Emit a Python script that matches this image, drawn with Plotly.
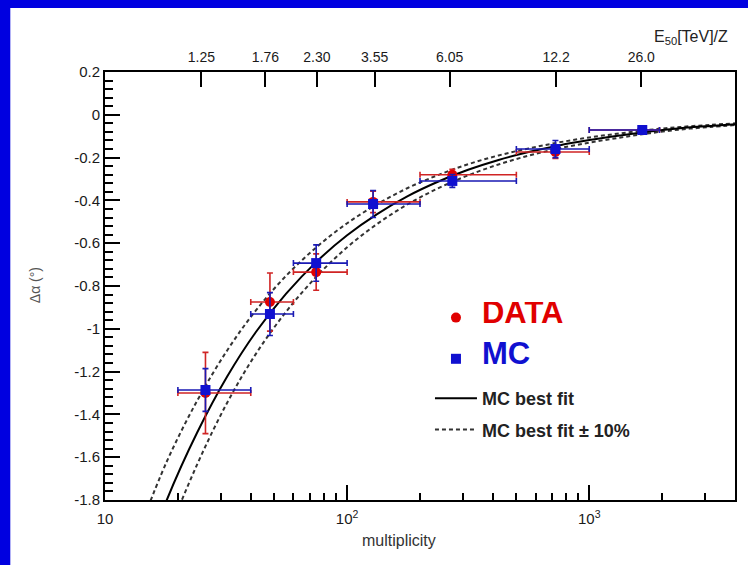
import plotly.graph_objects as go

# ---------------- data ----------------
mult = [26, 48, 74.5, 128, 272, 725, 1656]
mult_lo = [20, 40, 60, 100, 200, 500, 1000]
mult_hi = [40, 60, 100, 200, 500, 1000, 1950]

data_y = [-1.30, -0.875, -0.735, -0.407, -0.28, -0.174, -0.071]
data_err = [0.19, 0.136, 0.085, 0.05, 0.025, 0.03, 0.015]

mc_y = [-1.286, -0.931, -0.693, -0.417, -0.309, -0.160, -0.071]
mc_err = [0.10, 0.10, 0.085, 0.063, 0.03, 0.04, 0.015]

fit_m = [14, 18, 24, 32, 42, 56, 75, 100, 133, 178, 237, 316, 422, 562, 750,
         1000, 1334, 1778, 2371, 3162, 4000]
fit_y = [-2.14, -1.80, -1.486, -1.222, -1.015, -0.836, -0.685, -0.563, -0.464,
         -0.380, -0.313, -0.257, -0.211, -0.174, -0.143, -0.118, -0.097, -0.078,
         -0.063, -0.052, -0.044]
fit_minus10 = [-1.926, -1.62, -1.337, -1.10, -0.914, -0.752, -0.617, -0.507,
               -0.418, -0.342, -0.282, -0.231, -0.190, -0.157, -0.129, -0.106,
               -0.087, -0.070, -0.057, -0.047, -0.040]
fit_plus10 = [-2.354, -1.98, -1.635, -1.344, -1.117, -0.920, -0.754, -0.619,
              -0.510, -0.418, -0.344, -0.283, -0.232, -0.191, -0.157, -0.130,
              -0.107, -0.086, -0.069, -0.057, -0.048]

e50_mult = [25, 46, 75, 130, 265, 730, 1640]
e50_labels = ["1.25", "1.76", "2.30", "3.55", "6.05", "12.2", "26.0"]

y_ticks = [0.2, 0, -0.2, -0.4, -0.6, -0.8, -1, -1.2, -1.4, -1.6, -1.8]
y_ticklabels = ["0.2", "0", "-0.2", "-0.4", "-0.6", "-0.8", "-1", "-1.2", "-1.4", "-1.6", "-1.8"]
x_major = [10, 100, 1000]
x_major_labels = ["10", "10<sup>2</sup>", "10<sup>3</sup>"]
x_minor = [20, 30, 40, 50, 60, 70, 80, 90, 200, 300, 400, 500, 600, 700, 800, 900, 2000, 3000]

# ---------------- styling ----------------
FONT = "Liberation Sans, Arial, sans-serif"
RED = "#e00000"
BLUE = "#1010d0"
ERR_RED = "#d02424"
ERR_BLUE = "#1a1ab4"

W, H = 748, 565
L, R, T, B = 105, 11, 72, 65
PW, PH = W - L - R, H - T - B

def px(xp):
    return (xp - L) / PW

def py(yp):
    return (H - B - yp) / PH

xerr_plus = [h - m for h, m in zip(mult_hi, mult)]
xerr_minus = [m - l for m, l in zip(mult, mult_lo)]

fig = go.Figure()

fig.add_trace(go.Scatter(
    x=fit_m, y=fit_minus10, mode="lines",
    line=dict(color="#333333", width=2, dash="4px,3px", shape="spline", smoothing=1),
    name="<b>MC best fit \u00b1 10%</b>", legend="legend2", legendgroup="d", legendrank=2,
    hoverinfo="skip"))
fig.add_trace(go.Scatter(
    x=fit_m, y=fit_plus10, mode="lines",
    line=dict(color="#333333", width=2, dash="4px,3px", shape="spline", smoothing=1),
    showlegend=False, legendgroup="d", hoverinfo="skip"))
fig.add_trace(go.Scatter(
    x=fit_m, y=fit_y, mode="lines",
    line=dict(color="black", width=2, shape="spline", smoothing=1),
    name="<b>MC best fit</b>", legend="legend2", legendgroup="s", legendrank=1,
    hoverinfo="skip"))

fig.add_trace(go.Scatter(
    x=mult, y=data_y, mode="markers",
    marker=dict(symbol="circle", size=10, color=RED),
    error_x=dict(type="data", symmetric=False, array=xerr_plus, arrayminus=xerr_minus,
                 color=ERR_RED, thickness=1.6, width=3),
    error_y=dict(type="data", array=data_err, color=ERR_RED, thickness=1.6, width=3),
    name='<span style="font-size:31px;color:#e00000"><b>DATA</b></span>',
    legend="legend", legendgroup="a", legendrank=1))
fig.add_trace(go.Scatter(
    x=mult, y=mc_y, mode="markers",
    marker=dict(symbol="square", size=10, color=BLUE),
    error_x=dict(type="data", symmetric=False, array=xerr_plus, arrayminus=xerr_minus,
                 color=ERR_BLUE, thickness=1.6, width=3),
    error_y=dict(type="data", array=mc_err, color=ERR_BLUE, thickness=1.6, width=3),
    name='<span style="font-size:31px;color:#1010d0"><b>MC</b></span>',
    legend="legend", legendgroup="b", legendrank=2))

# top axis carrier (invisible trace)
fig.add_trace(go.Scatter(x=e50_mult, y=[None] * len(e50_mult), xaxis="x2", yaxis="y",
                         mode="markers", showlegend=False, hoverinfo="skip"))

xr = [1, 3.602]
fig.update_layout(
    width=W, height=H,
    margin=dict(l=L, r=R, t=T, b=B, pad=0),
    paper_bgcolor="#0000e0",
    plot_bgcolor="white",
    font=dict(family=FONT, color="#222222", size=15),
    xaxis=dict(type="log", range=xr, tickvals=x_major, ticktext=x_major_labels,
               ticks="inside", ticklen=15, tickwidth=1.5, tickcolor="black",
               showline=True, linecolor="black", linewidth=2, mirror=True,
               showgrid=False, zeroline=False, ticklabelstandoff=4,
               tickfont=dict(size=15, color="#1a1a1a"),
               minor=dict(tickvals=x_minor, ticks="inside", ticklen=7, tickwidth=1.5,
                          tickcolor="black", showgrid=False)),
    xaxis2=dict(type="log", range=xr, overlaying="x", side="top",
                tickvals=e50_mult, ticktext=e50_labels, ticks="inside", ticklen=15,
                tickwidth=1.5, tickcolor="black", showline=False, showgrid=False,
                zeroline=False, ticklabelstandoff=6,
                tickfont=dict(size=14, color="#1a1a1a")),
    yaxis=dict(range=[-1.8, 0.2], tickvals=y_ticks, ticktext=y_ticklabels,
               ticks="inside", ticklen=15, tickwidth=1.5, tickcolor="black",
               showline=True, linecolor="black", linewidth=2, mirror=True,
               showgrid=False, zeroline=False,
               tickfont=dict(size=15, color="#1a1a1a"),
               minor=dict(dtick=0.04, ticks="inside", ticklen=8, tickwidth=1.5,
                          tickcolor="black", showgrid=False)),
    legend=dict(x=px(431), y=py(302), xanchor="left", yanchor="top",
                bgcolor="rgba(0,0,0,0)", borderwidth=0, tracegroupgap=20,
                font=dict(family=FONT, size=14, color="#222222"),
                itemwidth=42, traceorder="grouped"),
    legend2=dict(x=px(431), y=py(380), xanchor="left", yanchor="top",
                 bgcolor="rgba(0,0,0,0)", borderwidth=0, tracegroupgap=5,
                 font=dict(family=FONT, size=18, color="#222222"),
                 itemwidth=42, traceorder="grouped"),
    shapes=[dict(type="rect", xref="paper", yref="paper",
                 x0=px(10), x1=px(W + 5), y0=py(H + 5), y1=py(8),
                 fillcolor="white", line=dict(width=0), layer="below")],
    annotations=[
        dict(text="\u0394\u03b1 (\u00b0)", xref="paper", yref="paper", x=px(35), y=py(285),
             xanchor="center", yanchor="middle",
             textangle=-90, showarrow=False, font=dict(size=14, color="#555555")),
        dict(text="multiplicity", xref="paper", yref="paper", x=px(400), y=py(540),
             xanchor="center", yanchor="middle",
             showarrow=False, font=dict(size=16, color="#333333")),
        dict(text="E<sub>50</sub>[TeV]/Z", xref="paper", yref="paper", x=px(693), y=py(38),
             xanchor="center", yanchor="middle",
             showarrow=False, font=dict(size=16, color="#222222")),
    ],
)

fig.write_html("out.html")
